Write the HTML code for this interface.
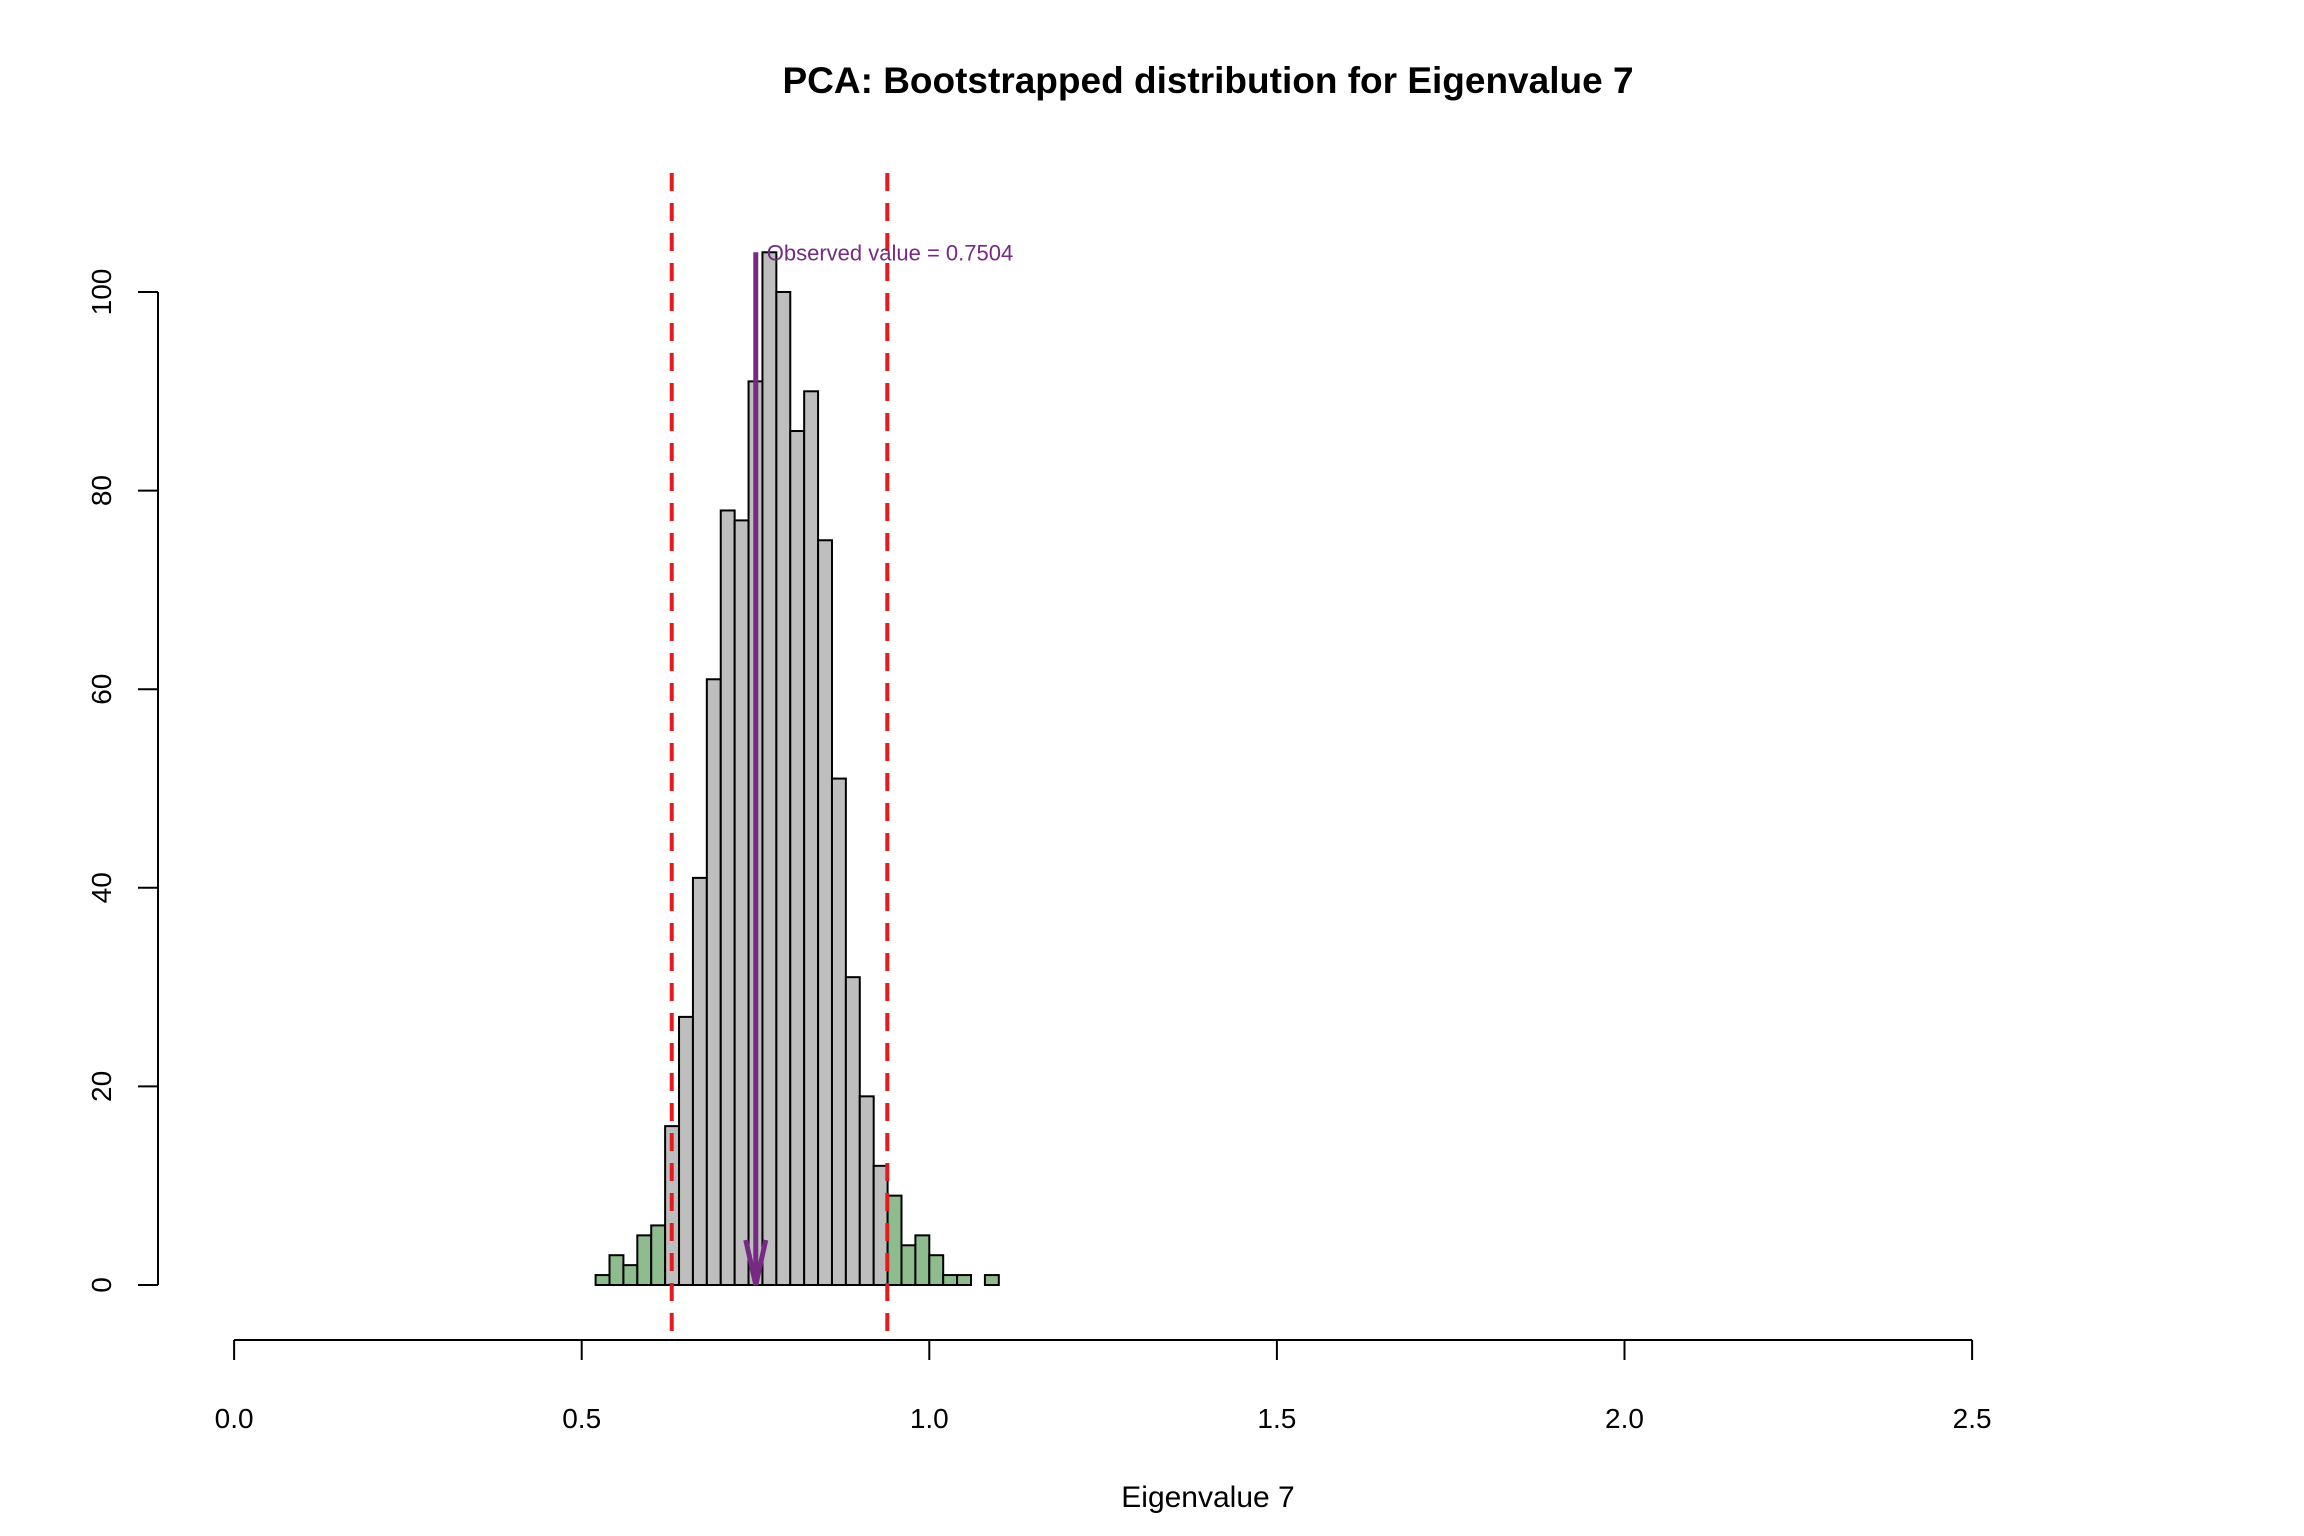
<!DOCTYPE html>
<html><head><meta charset="utf-8"><style>
html,body{margin:0;padding:0;background:#fff;}
svg{display:block;font-family:"Liberation Sans",sans-serif;}
</style></head><body>
<svg id="chart" width="2304" height="1536" viewBox="0 0 2304 1536">
<text x="1208" y="93" text-anchor="middle" font-size="37" font-weight="bold">PCA: Bootstrapped distribution for Eigenvalue 7</text>
<text x="1208" y="1507" text-anchor="middle" font-size="30">Eigenvalue 7</text>
<g id="bars"></g>
<g id="xaxis"></g>
<g id="yaxis"></g>
<g id="overlay"></g>
</svg>
<script>
const binStarts = [0.52,0.54,0.56,0.58,0.60,0.62,0.64,0.66,0.68,0.70,0.72,0.74,0.76,0.78,0.80,0.82,0.84,0.86,0.88,0.90,0.92,0.94,0.96,0.98,1.00,1.02,1.04,1.06,1.08];
const counts = [1,3,2,5,6,16,27,41,61,78,77,91,104,100,86,90,75,51,31,19,12,9,4,5,3,1,1,0,1];
const binWidth = 0.02;
const ciBounds = [0.6295, 0.9396];
const observed = 0.7504;
const xTicks = [0, 0.5, 1.0, 1.5, 2.0, 2.5];
const xTickLabels = ["0.0","0.5","1.0","1.5","2.0","2.5"];
const yTicks = [0, 20, 40, 60, 80, 100];

const NS = "http://www.w3.org/2000/svg";
const X = v => 234.1 + v * 695.2;
const Y = v => 1285 - v * 9.93;
function mk(tag, attrs, parent){ const e = document.createElementNS(NS, tag); for (const k in attrs) e.setAttribute(k, attrs[k]); parent.appendChild(e); return e; }

const bars = document.getElementById('bars');
binStarts.forEach((s, i) => {
  if (counts[i] <= 0) return;
  const mid = s + binWidth/2;
  const outside = mid < ciBounds[0] || mid > ciBounds[1];
  const r = mk('rect', {x: X(s), y: Y(counts[i]), width: X(s+binWidth)-X(s), height: Y(0)-Y(counts[i]), fill: outside ? '#8FBC8F' : '#BEBEBE', stroke: '#000', 'stroke-width': 2}, bars);
  
  
});

const xa = document.getElementById('xaxis');
const xl = mk('line', {x1: X(xTicks[0]), x2: X(xTicks[xTicks.length-1]), y1: 1340, y2: 1340, stroke: '#000', 'stroke-width': 2}, xa);


xTicks.forEach((t, i) => {
  mk('line', {x1: X(t), x2: X(t), y1: 1340, y2: 1360, stroke: '#000', 'stroke-width': 2}, xa);
  const tx = mk('text', {x: X(t), y: 1428, 'text-anchor': 'middle', 'font-size': 28}, xa);
  tx.textContent = xTickLabels[i];
  
  
});

const ya = document.getElementById('yaxis');
const yl = mk('line', {x1: 158, x2: 158, y1: Y(yTicks[0]), y2: Y(yTicks[yTicks.length-1]), stroke: '#000', 'stroke-width': 2}, ya);


yTicks.forEach(t => {
  mk('line', {x1: 138, x2: 158, y1: Y(t), y2: Y(t), stroke: '#000', 'stroke-width': 2}, ya);
  const tx = mk('text', {x: 0, y: 0, 'text-anchor': 'middle', 'font-size': 28, transform: 'translate(111,' + Y(t) + ') rotate(-90)'}, ya);
  tx.textContent = String(t);
  
  
});

const ov = document.getElementById('overlay');
ciBounds.forEach(c => {
  const l = mk('line', {x1: X(c), x2: X(c), y1: 173, y2: 1340, stroke: '#E41A1C', 'stroke-width': 4, 'stroke-dasharray': '18 12'}, ov);
  
  
});
const maxCount = Math.max(...counts);
const ox = X(observed);
const arrow = mk('g', {}, ov);


mk('line', {x1: ox, x2: ox, y1: Y(maxCount), y2: Y(0), stroke: '#762A83', 'stroke-width': 5}, arrow);
mk('polyline', {points: (ox-10)+','+(Y(0)-45)+' '+ox+','+Y(0)+' '+(ox+10)+','+(Y(0)-45), fill: 'none', stroke: '#762A83', 'stroke-width': 5}, arrow);
const ot = mk('text', {x: ox + 11, y: Y(maxCount) + 8, 'font-size': 22, fill: '#762A83'}, ov);
ot.textContent = 'Observed value = ' + observed.toFixed(4);


</script>
</body></html>
